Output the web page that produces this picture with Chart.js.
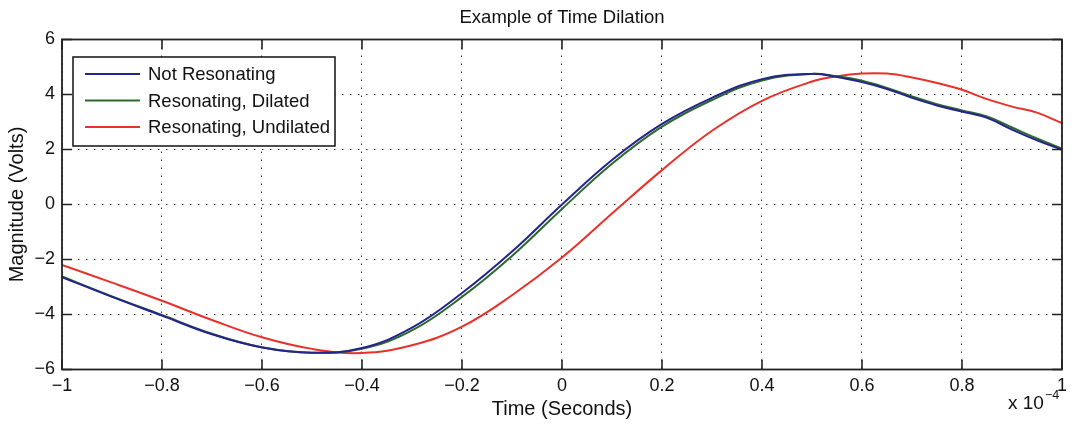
<!DOCTYPE html>
<html lang="en">
<head>
    <meta charset="UTF-8">
    <title>Example of Time Dilation</title>
    <script src="https://cdn.jsdelivr.net/npm/chart.js"></script>
    <style>
        body { margin: 0; background: #fff; }
        #wrap { width: 1073px; height: 425px; }
    </style>
</head>
<body>
    <div id="wrap"><canvas id="grafico"></canvas></div>
    <script>
        // time in units of 1e-4 s
        const tempo = [-1, -0.9, -0.8, -0.7, -0.6, -0.5, -0.4, -0.3, -0.2, -0.1, 0, 0.1, 0.2, 0.3, 0.4, 0.5, 0.55, 0.6, 0.65, 0.7, 0.75, 0.8, 0.85, 0.9, 0.95, 1];
        const notResonating = [-2.64, -3.36, -4.04, -4.72, -5.2, -5.39, -5.22, -4.48, -3.22, -1.71, 0.0, 1.62, 2.93, 3.88, 4.56, 4.75, 4.64, 4.45, 4.2, 3.88, 3.6, 3.38, 3.15, 2.72, 2.33, 1.99];
        const resDilated = [-2.62, -3.34, -4.02, -4.7, -5.19, -5.39, -5.25, -4.58, -3.36, -1.87, -0.16, 1.48, 2.83, 3.8, 4.51, 4.75, 4.66, 4.5, 4.24, 3.93, 3.65, 3.42, 3.2, 2.8, 2.4, 2.03];
        const resUndilated = [-2.2, -2.84, -3.5, -4.2, -4.83, -5.25, -5.4, -5.12, -4.44, -3.3, -1.93, -0.33, 1.25, 2.68, 3.77, 4.47, 4.66, 4.76, 4.76, 4.62, 4.42, 4.17, 3.83, 3.56, 3.34, 2.96];
        const seriesNames = ['Not Resonating', 'Resonating, Dilated', 'Resonating, Undilated'];
        const seriesColors = ['#25248c', '#2c6a2c', '#e8312a'];
        const titulo = 'Example of Time Dilation';

        const pontos = (ys) => tempo.map((t, i) => ({ x: t, y: ys[i] }));
        const fonte = 'Liberation Sans, Arial, Helvetica, sans-serif';
        const menos = (v) => {
            const r = Math.round(v * 10) / 10;
            return r === 0 ? '0' : String(r).replace('-', '\u2212');
        };

        // MATLAB style box, inward ticks, title, legend and exponent label
        const moldura = {
            id: 'moldura',
            afterDatasetsDraw(chart) {
                const { ctx, chartArea: a, scales } = chart;
                ctx.save();
                ctx.strokeStyle = '#222';
                ctx.lineWidth = 1.6;
                ctx.beginPath();
                scales.x.ticks.forEach(t => {
                    const px = scales.x.getPixelForValue(t.value);
                    ctx.moveTo(px, a.bottom); ctx.lineTo(px, a.bottom - 10);
                    ctx.moveTo(px, a.top); ctx.lineTo(px, a.top + 10);
                });
                scales.y.ticks.forEach(t => {
                    const py = scales.y.getPixelForValue(t.value);
                    ctx.moveTo(a.left, py); ctx.lineTo(a.left + 10, py);
                    ctx.moveTo(a.right, py); ctx.lineTo(a.right - 10, py);
                });
                ctx.stroke();
                ctx.lineWidth = 1.8;
                ctx.strokeRect(a.left, a.top, a.right - a.left, a.bottom - a.top);

                // title centred over the axes
                ctx.fillStyle = '#111';
                ctx.font = '18.5px ' + fonte;
                ctx.textAlign = 'center';
                ctx.textBaseline = 'middle';
                ctx.fillText(titulo, (a.left + a.right) / 2, 17.5);
                ctx.textAlign = 'left';

                // legend
                const lx = 73, ly = 57, lw = 262, lh = 89;
                ctx.fillStyle = '#fff';
                ctx.fillRect(lx, ly, lw, lh);
                ctx.strokeStyle = '#111';
                ctx.lineWidth = 1.5;
                ctx.strokeRect(lx, ly, lw, lh);
                ctx.font = '18.5px ' + fonte;
                chart.data.datasets.forEach((ds, i) => {
                    const yy = 74 + i * 26.5;
                    ctx.strokeStyle = ds.borderColor;
                    ctx.lineWidth = 1.8;
                    ctx.beginPath();
                    ctx.moveTo(85, yy); ctx.lineTo(140, yy);
                    ctx.stroke();
                    ctx.fillStyle = '#111';
                    ctx.fillText(ds.label, 148, yy + 1);
                });

                // x 10^-4
                ctx.fillStyle = '#111';
                ctx.textBaseline = 'alphabetic';
                ctx.font = '19px ' + fonte;
                ctx.fillText('x 10', 1008, 409);
                const w = ctx.measureText('x 10').width;
                ctx.font = '12.5px ' + fonte;
                ctx.fillText('\u22124', 1008 + w + 1, 399);
                ctx.restore();
            }
        };

        new Chart(document.getElementById('grafico'), {
            type: 'line',
            data: {
                datasets: [notResonating, resDilated, resUndilated].map((ys, i) => ({
                    label: seriesNames[i],
                    data: pontos(ys),
                    borderColor: seriesColors[i],
                    borderWidth: 2,
                    pointRadius: 0,
                    tension: 0.4,
                    fill: false
                }))
            },
            options: {
                responsive: true,
                maintainAspectRatio: false,
                animation: false,
                layout: { padding: { left: 0, right: 5, top: 39.5, bottom: 0 } },
                plugins: {
                    legend: { display: false },
                    tooltip: { enabled: false },
                    title: { display: false }
                },
                scales: {
                    x: {
                        type: 'linear',
                        min: -1,
                        max: 1,
                        afterFit: (s) => { s.height = 55.5; },
                        ticks: {
                            stepSize: 0.2,
                            color: '#111',
                            padding: 6,
                            maxRotation: 0,
                            font: { family: fonte, size: 18 },
                            callback: (v) => menos(v)
                        },
                        grid: { color: '#333', lineWidth: 1, drawTicks: false },
                        border: { display: false, dash: [1.5, 6.5] },
                        title: {
                            display: true,
                            text: 'Time (Seconds)',
                            color: '#111',
                            font: { family: fonte, size: 20 },
                            padding: { top: 0, bottom: 4 }
                        }
                    },
                    y: {
                        min: -6,
                        max: 6,
                        afterFit: (s) => { s.width = 62; },
                        ticks: {
                            stepSize: 2,
                            color: '#111',
                            padding: 7,
                            font: { family: fonte, size: 18 },
                            callback: (v) => menos(v)
                        },
                        grid: { color: '#333', lineWidth: 1, drawTicks: false },
                        border: { display: false, dash: [1.5, 6.5] },
                        title: {
                            display: true,
                            text: 'Magnitude (Volts)',
                            color: '#111',
                            font: { family: fonte, size: 20 },
                            padding: { top: 5, bottom: 0 }
                        }
                    }
                }
            },
            plugins: [moldura]
        });
    </script>
</body>
</html>
